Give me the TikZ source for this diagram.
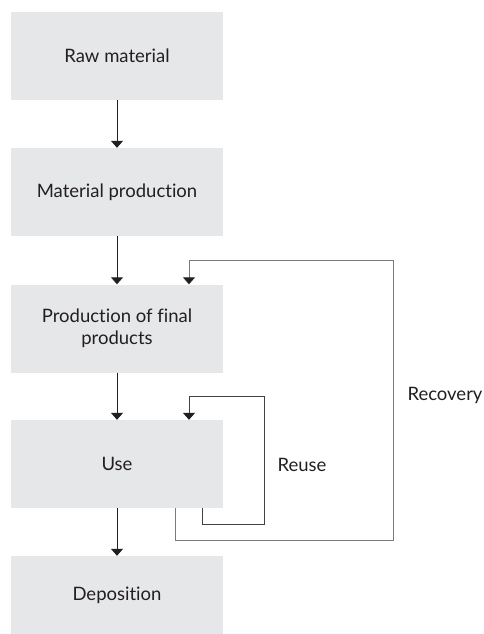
\documentclass[tikz,border=0pt]{standalone}
\usepackage{fontspec}
\setmainfont{Lato}[Ligatures=NoCommon]
\usetikzlibrary{arrows.meta}
\definecolor{boxgray}{HTML}{E6E7E8}
\definecolor{ink}{HTML}{231F20}
\definecolor{loopgray}{HTML}{7A7A7C}
\begin{document}
\begin{tikzpicture}[x=1pt, y=-1pt,
		stage/.style={fill=boxgray, text=ink, minimum width=212pt, minimum height=88pt, align=center, inner sep=0pt, font=\fontsize{18.5}{22}\selectfont},
		label/.style={text=ink, font=\fontsize{18.5}{22}\selectfont},
		flow/.style={draw=ink, line width=1pt, -{Triangle[width=12pt,length=7pt,color=ink]}}]
		\useasboundingbox (0,0) rectangle (484,634);
		\node[stage] (Raw material) at (117,56) {Raw material};
		\node[stage] (Material production) at (117,192) {Material production};
		\node[stage] (Production) at (117,328.5) {Production of final\\products};
		\node[stage] (Use) at (117,464) {Use};
		\node[stage, minimum height=78pt] (Deposition) at (117,595) {Deposition};
		\node[label] (Recovery) at (445,395) {Recovery};
		\node[label] (Reuse) at (302,465) {Reuse};
		% Arrows
		\draw[flow] (Raw material) -- (Material production);
		\draw[flow] (Material production) -- (Production);
		\draw[flow] (Production) -- (Use);
		\draw[flow] (Use) -- (Deposition);
		\draw[flow, draw=loopgray] ([xshift=58pt]Use.south) |- (393,540) |- (189,260) -- ([xshift=72pt]Production.north);
		\draw[flow, draw=ink!85] ([xshift=85pt]Use.south) |- (264,524) |- (189,396) -- ([xshift=72pt]Use.north);
	\end{tikzpicture}
\end{document}
